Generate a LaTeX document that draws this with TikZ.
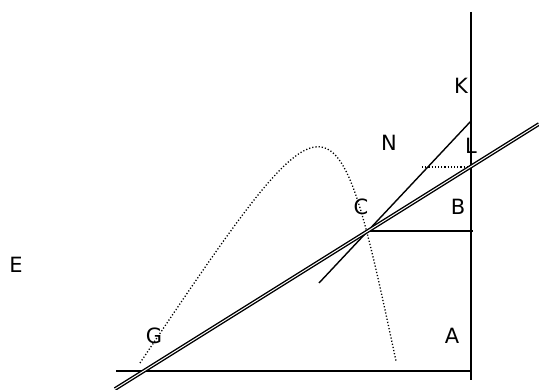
\documentclass[tikz,border=0pt]{standalone}
\usepackage{fontspec}
\setmainfont{DejaVu Sans}
\usepackage{tikz}
\usetikzlibrary{calc}
\tikzset{
  lbl/.style={font=\fontsize{21}{21}\selectfont, inner sep=0pt},
  axis/.style={draw=black, line width=1.7pt},
  ray/.style={draw=black, line width=1.4pt},
  budget/.style={draw=black, double=white, line width=1.4pt, double distance=1pt},
  guide/.style={draw=black, line width=1.3pt, dash pattern=on 1.2pt off 2pt}
}

\begin{document}
\begin{tikzpicture}[x=1pt, y=-1pt]
  \useasboundingbox (0,0) rectangle (539,390);
  % points of the figure
  \coordinate (top) at (471,12);
  \coordinate (bot) at (471,380);
  \coordinate (a0) at (116,371);
  \coordinate (a1) at (471,371);
  \coordinate (c) at (367,231);
  \coordinate (b1) at (473,231);
  \coordinate (d0) at (115,389);
  \coordinate (d1) at (539,124);
  \coordinate (r0) at (319,283);
  \coordinate (r1) at (471,121);
  \coordinate (h0) at (422,167);
  \coordinate (h1) at (471,167);
  \coordinate (g0) at (140,363);
  \coordinate (g1) at (396,361);
  % labels
  \node[lbl] (K) at (461,86) {K};
  \node[lbl] (N) at (389,143) {N};
  \node[lbl] (L) at (471,146) {L};
  \node[lbl] (C) at (361,207) {C};
  \node[lbl] (B) at (458,207) {B};
  \node[lbl] (E) at (16,265) {E};
  \node[lbl] (G) at (154,336) {G};
  \node[lbl] (A) at (452,336) {A};
  % lines
  \draw[guide] (g0) .. controls (334,75) and (335,75) .. (g1);
  \draw[guide] (h0) -- (h1);
  \draw[axis] (top) -- (bot);
  \draw[axis] (a0) -- (a1);
  \draw[axis] (c) -- (b1);
  \draw[ray] (r0) -- (r1);
  \draw[budget] (d0) -- (d1);
\end{tikzpicture}
\end{document}
